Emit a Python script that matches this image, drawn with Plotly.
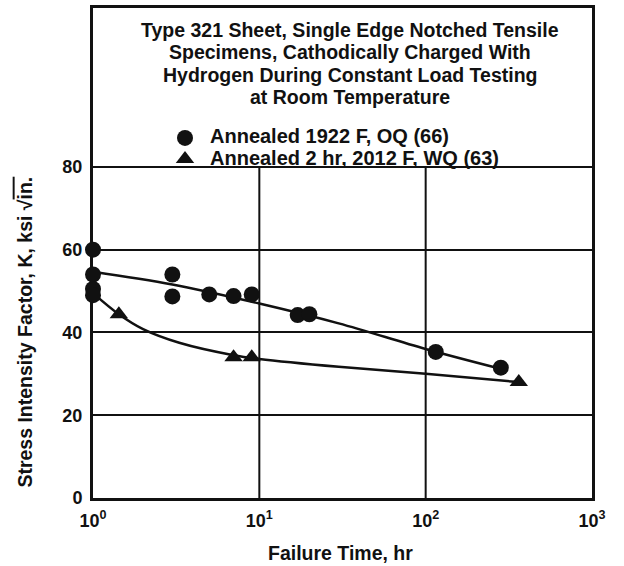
import plotly.graph_objects as go

# Failure time (hr) and stress intensity K (ksi*sqrt(in.)) for each condition
oq_time = [1, 1, 1, 1, 3, 3, 5, 7, 9, 17, 20, 115, 283]
oq_k = [60, 54, 50.5, 49, 54, 48.7, 49.2, 48.8, 49.2, 44.2, 44.4, 35.3, 31.5]

wq_time = [1.43, 7, 9, 363]
wq_k = [44.4, 34, 34, 28]

# Hand-faired trend curves through each set
oq_fit_time = [1, 3, 10, 30, 100, 283]
oq_fit_k = [54.7, 51.6, 47.0, 42.2, 36.0, 31.2]

wq_fit_time = [1, 1.43, 2, 3.3, 7, 10, 30, 100, 363]
wq_fit_k = [49.5, 44.4, 40.8, 37.5, 34.5, 33.6, 31.7, 30.0, 28.0]

oq_label = "Annealed 1922 F, OQ (66)"
wq_label = "Annealed 2 hr, 2012 F, WQ (63)"

x_ticks = [1, 10, 100, 1000]
x_ticktext = ["10<sup>0</sup>", "10<sup>1</sup>", "10<sup>2</sup>", "10<sup>3</sup>"]
y_ticks = [0, 20, 40, 60, 80]

title_lines = [
    "Type 321 Sheet, Single Edge Notched Tensile",
    "Specimens, Cathodically Charged With",
    "Hydrogen During Constant Load Testing",
    "at Room Temperature",
]

INK = "#111111"
FONT = "Liberation Sans"
TXT = 19.5

fig = go.Figure()

# vertical grid lines stop at the top of the data region (K = 80)
for xv in x_ticks[1:-1]:
    fig.add_shape(type="line", xref="x", yref="y", x0=xv, x1=xv,
                  y0=y_ticks[0], y1=y_ticks[-1], layer="below",
                  line=dict(color=INK, width=2))

fig.add_trace(go.Scatter(
    x=oq_fit_time, y=oq_fit_k, mode="lines", line=dict(color=INK, width=2.5, shape="spline"),
    showlegend=False, hoverinfo="skip"))
fig.add_trace(go.Scatter(
    x=wq_fit_time, y=wq_fit_k, mode="lines", line=dict(color=INK, width=2.5, shape="spline"),
    showlegend=False, hoverinfo="skip"))


def legend_text(s):
    return f"<span style='font-size:{TXT + 0.5}px'>{s}</span>"


fig.add_trace(go.Scatter(
    x=oq_time, y=oq_k, mode="markers", name=legend_text(oq_label), cliponaxis=False,
    marker=dict(symbol="circle", size=16, color=INK)))
fig.add_trace(go.Scatter(
    x=wq_time, y=wq_k, mode="markers", name=legend_text(wq_label), cliponaxis=False,
    marker=dict(symbol="triangle-up", size=16, color=INK)))

for i, line in enumerate(title_lines):
    fig.add_annotation(
        text=line, xref="paper", yref="paper", x=0.515, y=1 - (22 + 22.6 * i) / 493,
        xanchor="center", yanchor="middle", showarrow=False,
        font=dict(size=TXT, color=INK, family=FONT, weight="bold"))

fig.add_annotation(
    text="Stress Intensity Factor, K, ksi \u221a<span style='text-decoration:overline'>in.</span>",
    xref="paper", yref="y", x=-0.136, y=40, textangle=-90,
    xanchor="center", yanchor="middle", showarrow=False,
    font=dict(size=TXT, color=INK, family=FONT, weight="bold"))

fig.add_annotation(
    text="Failure Time, hr", xref="paper", yref="paper", x=0.495, y=-(553 - 498) / 493,
    xanchor="center", yanchor="middle", showarrow=False, borderpad=0,
    font=dict(size=TXT, color=INK, family=FONT, weight="bold"))

fig.update_layout(
    width=624, height=566,
    margin=dict(l=93, r=32, t=5, b=68),
    paper_bgcolor="white", plot_bgcolor="white",
    font=dict(family=FONT, color=INK, size=18, weight="bold"),
    showlegend=True,
    legend=dict(
        x=(160 - 93) / 499, y=1 - (120 - 5) / 493, xanchor="left", yanchor="top",
        bgcolor="rgba(0,0,0,0)", borderwidth=0, tracegroupgap=0,
        font=dict(size=14, family=FONT, color=INK, weight="bold"),
        itemwidth=40),
    xaxis=dict(
        type="log", range=[0, 3], tickvals=x_ticks, ticktext=x_ticktext,
        showgrid=False, zeroline=False, showline=True, mirror=True,
        linecolor=INK, linewidth=3, ticks="", ticklabelstandoff=4,
        tickfont=dict(size=18, family=FONT, color=INK)),
    yaxis=dict(
        range=[0, 118.4], tickvals=y_ticks, showgrid=True, gridcolor=INK, gridwidth=2,
        zeroline=False, showline=True, mirror=True, linecolor=INK, linewidth=3,
        ticks="", ticklabelstandoff=4,
        tickfont=dict(size=18, family=FONT, color=INK)),
)

fig.write_html("out.html")
